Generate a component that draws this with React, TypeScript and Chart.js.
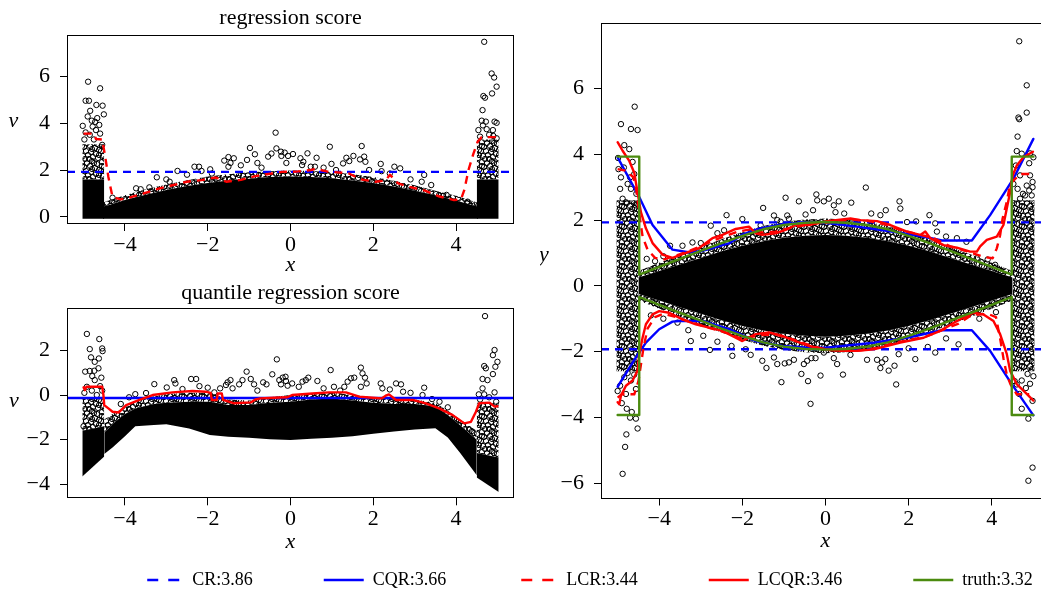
import React, { useEffect, useRef } from 'react';
import { Chart, registerables } from 'chart.js';

Chart.register(...registerables);

const BLUE = '#0000ff';
const RED = '#ff0000';
const GREEN = '#4b8b0f';
const SERIF = '"Liberation Serif", "Times New Roman", serif';

// ---------- ticks ----------
const xTicks = [-4, -2, 0, 2, 4];
const tlYTicks = [0, 2, 4, 6];
const blYTicks = [-4, -2, 0, 2];
const rYTicks = [-6, -4, -2, 0, 2, 4, 6];

// ---------- legend ----------
const legendLabels = ['CR:3.86', 'CQR:3.66', 'LCR:3.44', 'LCQR:3.46', 'truth:3.32'];
const legendColors = [BLUE, BLUE, RED, RED, GREEN];
const legendDashed = [true, false, true, false, false];

// ---------- top-left: regression score ----------
const tlFloor = -0.08;
const tlCoreX = [-4.53, -4.4, -4.0, -3.5, -3.0, -2.5, -2.0, -1.5, -1.0, -0.5, 0.0, 0.5, 1.0, 1.5, 2.0, 2.5, 3.0, 3.5, 4.0, 4.4, 4.53];
const tlCoreTop = [0.45, 0.5, 0.72, 0.95, 1.15, 1.32, 1.45, 1.55, 1.63, 1.7, 1.72, 1.7, 1.65, 1.55, 1.45, 1.3, 1.12, 0.92, 0.7, 0.5, 0.45];
const tlFringeTop = [0.6, 0.7, 0.92, 1.18, 1.38, 1.56, 1.72, 1.82, 1.9, 1.95, 1.98, 1.96, 1.92, 1.82, 1.7, 1.54, 1.35, 1.12, 0.9, 0.68, 0.6];
const tlColLX = [-5.03, -4.5];
const tlColRX = [4.5, 5.03];
const tlColSolid = [1.6, 1.6];
const tlColLTop = [3.1, 3.1];
const tlColRTop = [3.3, 3.3];
const tlCrX = [-5.4, 5.4];
const tlCrV = [1.92, 1.92];
const tlLcrX = [-5.0, -4.75, -4.7, -4.55, -4.48, -4.4, -4.3, -4.1, -3.9, -3.55, -3.2, -2.85, -2.5, -2.15, -1.8, -1.55, -1.2, -0.82, -0.45, -0.2, 0.15, 0.5, 0.6, 0.9, 1.4, 1.7, 2.05, 2.3, 2.4, 2.6, 2.9, 3.25, 3.6, 3.95, 4.12, 4.2, 4.3, 4.42, 4.52, 4.62, 4.97];
const tlLcrV = [3.55, 3.55, 3.32, 3.3, 2.6, 1.7, 0.85, 0.75, 0.82, 1.0, 1.2, 1.35, 1.5, 1.57, 1.68, 1.5, 1.58, 1.75, 1.85, 1.92, 1.93, 2.0, 2.05, 1.93, 1.86, 1.6, 1.5, 1.55, 1.8, 1.43, 1.27, 1.12, 0.87, 0.72, 0.75, 1.15, 2.0, 2.7, 3.2, 3.4, 3.4];
const tlPtsX = [
  -4.89, -4.6, -4.95, -4.87, -4.69, -4.54, -4.84, -4.51, -4.9, -4.67,
  -5.02, -4.78, -4.62, -4.72, -4.8, -4.95, -4.85, -4.7, -4.6, -4.98,
  -4.75, -4.55, -4.3, -3.73, -3.62, -3.41, -3.23, -2.92, -2.73, -2.5,
  -2.32, -2.21, -1.94, -2.15, -1.9, -1.6, -1.5, -1.37, -1.45, -1.5,
  -1.2, -1.05, -0.98, -0.86, -0.8, -0.7, -0.54, -0.46, -0.34, -0.36,
  -0.23, -0.14, -0.22, -0.1, -0.06, 0.06, 0.24, 0.31, 0.28, 0.41,
  0.49, 0.59, 0.63, 0.8, 0.95, 0.99, 1.1, 1.27, 1.35, 1.42,
  1.52, 1.68, 1.72, 1.78, 1.81, 1.9, 2.18, 2.2, 2.4, 2.51,
  2.65, 2.9, 3.17, 3.23, 3.4, 3.77, 4.28, -3.0, 4.68, 4.86,
  4.92, 4.98, 4.87, 4.66, 4.7, 4.64, 4.62, 4.72, 4.93, 4.98,
  4.54, 4.74, 4.89, 4.58, 4.98, 4.8, 4.65, 4.9,
];
const tlPtsV = [
  5.76, 5.48, 4.95, 4.95, 4.77, 4.74, 4.52, 4.37, 4.28, 4.21,
  3.88, 3.85, 3.92, 4.05, 4.1, 3.6, 3.5, 3.7, 3.55, 3.3,
  3.3, 3.07, 0.82, 1.22, 1.18, 1.26, 1.69, 1.5, 1.96, 1.8,
  2.14, 2.14, 2.03, 1.96, 1.85, 2.4, 2.55, 2.5, 2.3, 2.14,
  2.2, 2.43, 2.94, 2.67, 2.3, 2.1, 2.57, 2.7, 2.92, 3.59,
  2.78, 2.74, 2.6, 2.3, 2.6, 2.68, 2.5, 2.35, 2.21, 2.71,
  2.14, 2.14, 2.52, 2.1, 2.99, 2.26, 2.0, 2.28, 2.52, 2.38,
  2.6, 2.45, 3.02, 2.57, 2.35, 2.0, 2.26, 1.95, 1.85, 2.14,
  2.07, 1.6, 1.5, 1.79, 1.36, 0.94, 0.65, 1.6, 7.46, 6.11,
  5.94, 5.55, 5.26, 5.15, 5.08, 4.55, 4.1, 4.06, 4.06, 4.01,
  3.7, 3.74, 3.7, 3.42, 3.35, 3.5, 3.9, 3.45,
];

// ---------- bottom-left: quantile regression score ----------
const blBandX = [-4.5, -4.3, -4.0, -3.75, -3.3, -3.0, -2.45, -1.95, -1.5, -1.0, -0.5, 0.0, 0.5, 1.0, 1.5, 2.0, 2.5, 3.0, 3.5, 3.8, 4.1, 4.5];
const blCoreTop = [-1.7, -1.3, -0.85, -0.6, -0.4, -0.35, -0.3, -0.3, -0.45, -0.45, -0.35, -0.3, -0.2, -0.15, -0.25, -0.35, -0.4, -0.4, -0.5, -0.9, -1.35, -2.0];
const blCoreBot = [-2.64, -2.35, -1.85, -1.4, -1.34, -1.31, -1.5, -1.79, -1.87, -1.92, -1.98, -2.02, -1.96, -1.92, -1.85, -1.74, -1.64, -1.55, -1.49, -1.9, -2.6, -3.6];
const blFringeTop = [-1.1, -0.85, -0.55, -0.3, -0.05, 0.05, 0.1, 0.1, -0.2, -0.25, -0.1, 0.0, 0.05, 0.1, 0.0, -0.1, -0.15, -0.2, -0.35, -0.7, -1.1, -1.6];
const blColLX = [-5.03, -4.5];
const blColLBot = [-3.65, -2.75];
const blColLMid = [-1.6, -1.4];
const blColLTop = [-0.1, -0.1];
const blColRX = [4.5, 5.03];
const blColRBot = [-3.7, -4.35];
const blColRMid = [-2.6, -2.8];
const blColRTop = [-0.35, -0.35];
const blCqrX = [-5.4, 5.4];
const blCqrV = [-0.13, -0.13];
const blLcqrX = [-5.0, -4.97, -4.93, -4.55, -4.52, -4.5, -4.4, -4.3, -4.15, -3.97, -3.65, -3.33, -2.85, -2.37, -2.05, -1.93, -1.9, -1.78, -1.76, -1.66, -1.63, -1.36, -0.96, -0.85, -0.73, -0.4, -0.08, 0.04, 0.53, 0.93, 1.34, 1.66, 1.98, 2.2, 2.3, 2.38, 2.55, 2.95, 3.27, 3.59, 3.92, 4.2, 4.36, 4.48, 4.56, 4.81, 4.93, 5.0];
const blLcqrV = [0.35, 0.22, 0.37, 0.37, 0.0, -0.45, -0.6, -0.75, -0.78, -0.45, -0.22, 0.0, 0.12, 0.18, 0.15, 0.1, -0.22, -0.22, 0.07, 0.07, -0.22, -0.37, -0.33, -0.2, -0.15, -0.12, -0.1, 0.0, 0.07, 0.12, 0.12, -0.07, -0.12, -0.15, -0.03, 0.03, -0.22, -0.22, -0.37, -0.6, -0.9, -1.27, -1.2, -0.75, -0.37, -0.34, -0.52, -0.5];
const blPtsX = [
  -4.92, -4.62, -4.85, -4.55, -4.54, -4.82, -4.73, -4.63, -4.96, -4.85,
  -4.74, -4.64, -4.79, -4.73, -4.57, -4.92, -4.6, -4.8, -4.98, -4.68,
  -5.0, -4.55, -3.75, -3.49, -3.29, -2.99, -2.81, -2.78, -2.61, -2.4,
  -2.28, -2.0, -1.84, -1.56, -1.52, -1.45, -1.4, -1.24, -1.16, -1.06,
  -0.96, -0.88, -0.66, -0.58, -0.44, -0.33, -0.27, -0.19, -0.11, -0.23,
  -0.07, -0.12, 0.04, 0.2, 0.29, 0.37, 0.43, 0.65, 0.97, 1.05,
  1.3, 1.38, 1.46, 1.54, 1.7, 1.74, 1.8, 1.84, 1.7, 2.18,
  2.22, 2.55, 2.67, 2.72, 3.23, 3.19, 3.42, -3.9, -2.2, -1.7,
  -0.8, 0.8, 1.2, 2.4, 2.9, 3.6, 3.8, -4.1, 4.7, 4.93,
  4.89, 5.0, 4.68, 4.72, 4.95, 4.89, 4.64, 4.76, 4.64, 4.55,
  4.68, 4.93, 4.97, 4.8, 4.58,
];
const blPtsV = [
  2.74, 2.51, 2.06, 2.09, 1.97, 1.69, 1.49, 1.64, 1.05, 1.08,
  1.09, 1.2, 0.85, 0.67, 0.78, 0.37, 0.4, 0.2, 0.1, 0.0,
  -1.4, 0.2, 0.04, 0.09, 0.49, 0.34, 0.67, 0.52, 0.27, 0.72,
  0.72, 0.33, 0.12, 0.45, 0.57, 0.67, 0.3, 0.48, 0.67, 1.05,
  0.72, 0.48, 0.57, 0.48, 0.93, 1.6, 0.67, 0.78, 0.63, 0.48,
  0.42, 0.82, 0.52, 0.37, 0.6, 0.67, 0.78, 0.63, 1.12, 0.37,
  0.37, 0.6, 0.75, 0.78, 1.23, 0.97, 0.78, 0.52, 0.37, 0.52,
  0.3, 0.52, 0.48, 0.15, 0.33, 0.0, -0.18, -0.1, 0.4, 0.3,
  0.2, 0.3, 0.2, 0.25, 0.1, -0.3, -0.55, -0.4, 3.54, 2.02,
  1.79, 1.49, 1.3, 1.2, 1.27, 0.94, 0.72, 0.67, 0.3, 0.03,
  0.03, 0.12, -0.3, -0.1, -0.2,
];

// ---------- right: y vs x with intervals ----------
const rBandX = [-4.5, -4.0, -3.5, -3.0, -2.5, -2.0, -1.5, -1.0, -0.5, 0.0, 0.5, 1.0, 1.5, 2.0, 2.5, 3.0, 3.5, 4.0, 4.5];
const rCoreTop = [0.25, 0.45, 0.65, 0.85, 1.05, 1.22, 1.36, 1.46, 1.52, 1.55, 1.52, 1.46, 1.36, 1.22, 1.05, 0.85, 0.65, 0.45, 0.25];
const rCoreBot = [-0.25, -0.45, -0.65, -0.85, -1.05, -1.22, -1.36, -1.46, -1.52, -1.55, -1.52, -1.46, -1.36, -1.22, -1.05, -0.85, -0.65, -0.45, -0.25];
const rFringeTop = [0.45, 0.7, 0.95, 1.18, 1.42, 1.64, 1.82, 1.95, 2.02, 2.05, 2.02, 1.95, 1.82, 1.64, 1.42, 1.18, 0.95, 0.7, 0.45];
const rFringeBot = [-0.45, -0.7, -0.95, -1.18, -1.42, -1.64, -1.82, -1.95, -2.02, -2.05, -2.02, -1.95, -1.82, -1.64, -1.42, -1.18, -0.95, -0.7, -0.45];
const rColLX = [-5.03, -4.5];
const rColRX = [4.5, 5.03];
const rColBot = [-2.6, -2.6];
const rColTop = [2.6, 2.6];
const rCrX = [-5.4, 5.4];
const rCrUp = [1.93, 1.93];
const rCrLo = [-1.93, -1.93];
const rCqrUpX = [-5.0, -4.48, -4.16, -3.84, -3.68, -3.3, -3.0, -2.6, -2.3, -2.0, -1.6, -1.0, -0.45, 0.1, 0.75, 1.55, 2.35, 2.8, 3.52, 3.96, 4.52, 5.0];
const rCqrUpY = [3.91, 2.7, 1.85, 1.35, 1.1, 1.02, 1.05, 1.19, 1.3, 1.56, 1.74, 1.88, 1.93, 1.9, 1.8, 1.66, 1.5, 1.38, 1.38, 2.15, 3.26, 4.47];
const rCqrLoX = [-5.0, -4.56, -4.32, -4.0, -3.68, -3.52, -2.96, -2.32, -1.68, -1.04, -0.4, 0.0, 1.16, 1.96, 2.8, 3.52, 3.96, 4.48, 5.0];
const rCqrLoY = [-3.07, -2.18, -1.73, -1.32, -1.09, -1.07, -1.07, -1.32, -1.68, -1.83, -1.88, -1.88, -1.73, -1.58, -1.35, -1.35, -1.98, -2.99, -3.94];
const rLcqrUpX = [-5.0, -4.88, -4.72, -4.6, -4.52, -4.44, -4.32, -4.16, -3.92, -3.68, -3.36, -3.04, -2.72, -2.48, -2.16, -1.84, -1.68, -1.52, -1.2, -0.96, -0.72, -0.4, 0.04, 0.6, 0.84, 1.24, 1.56, 1.96, 2.28, 2.4, 2.52, 2.84, 3.16, 3.48, 3.64, 3.72, 3.88, 4.12, 4.28, 4.44, 4.5, 4.6, 4.76, 4.99];
const rLcqrUpY = [4.37, 4.11, 3.8, 3.44, 2.84, 2.24, 1.75, 1.3, 0.95, 0.85, 1.0, 1.15, 1.45, 1.55, 1.73, 1.8, 1.6, 1.55, 1.6, 1.7, 1.85, 1.85, 1.97, 2.05, 2.0, 1.97, 1.85, 1.65, 1.55, 1.65, 1.45, 1.24, 1.16, 1.04, 1.04, 1.2, 1.4, 1.5, 1.85, 2.85, 3.35, 3.66, 3.91, 4.08];
const rLcqrLoX = [-5.0, -4.96, -4.92, -4.8, -4.64, -4.52, -4.48, -4.4, -4.32, -4.16, -4.0, -3.76, -3.44, -3.12, -2.8, -2.48, -2.16, -2.0, -1.68, -1.36, -1.04, -0.72, -0.4, 0.0, 0.36, 0.76, 1.16, 1.8, 2.36, 2.76, 3.16, 3.56, 3.8, 4.04, 4.2, 4.36, 4.44, 4.6, 4.84, 5.0];
const rLcqrLoY = [-3.54, -3.6, -3.34, -3.04, -2.88, -2.58, -2.08, -1.58, -1.17, -0.87, -0.77, -0.82, -1.02, -1.17, -1.27, -1.37, -1.58, -1.68, -1.47, -1.42, -1.52, -1.68, -1.83, -1.93, -1.98, -1.98, -1.93, -1.73, -1.58, -1.37, -1.07, -0.82, -0.87, -1.07, -1.47, -2.07, -2.58, -2.99, -3.29, -3.49];
const rLcrUpX = [-5.0, -4.8, -4.62, -4.55, -4.48, -4.4, -4.28, -4.1, -3.9, -3.6, -3.3, -3.0, -2.7, -2.4, -2.1, -1.8, -1.5, -1.2, -0.9, -0.6, -0.3, 0.0, 0.3, 0.6, 1.0, 1.4, 1.8, 2.2, 2.6, 3.0, 3.4, 3.8, 4.02, 4.12, 4.2, 4.26, 4.36, 4.44, 4.68, 4.9];
const rLcrUpY = [3.55, 3.5, 3.3, 2.9, 2.2, 1.5, 1.1, 0.85, 0.8, 0.92, 1.05, 1.2, 1.38, 1.52, 1.65, 1.72, 1.62, 1.65, 1.75, 1.82, 1.9, 1.92, 1.97, 2.02, 1.98, 1.88, 1.7, 1.58, 1.45, 1.2, 1.05, 0.88, 0.84, 1.14, 1.54, 2.05, 2.55, 3.1, 3.4, 3.4];
const rLcrLoX = [-5.0, -4.9, -4.6, -4.5, -4.44, -4.38, -4.28, -4.1, -3.9, -3.6, -3.2, -2.8, -2.4, -2.0, -1.6, -1.2, -0.8, -0.4, 0.0, 0.4, 0.8, 1.2, 1.6, 2.0, 2.4, 2.8, 3.2, 3.5, 3.9, 4.1, 4.2, 4.28, 4.36, 4.45, 4.6, 4.9];
const rLcrLoY = [-3.4, -3.3, -3.3, -2.9, -2.4, -1.9, -1.3, -0.95, -0.85, -0.95, -1.12, -1.28, -1.42, -1.62, -1.5, -1.48, -1.62, -1.8, -1.95, -1.97, -1.97, -1.9, -1.75, -1.65, -1.55, -1.35, -1.15, -0.9, -0.85, -0.95, -1.6, -2.2, -2.7, -3.0, -3.3, -3.3];
const rTruthX = [-5.0, -4.48, -4.48, -4.0, -3.5, -3.0, -2.5, -2.0, -1.5, -1.0, -0.5, 0.0, 0.5, 1.0, 1.5, 2.0, 2.5, 3.0, 3.5, 4.0, 4.48, 4.48, 5.0];
const rTruthUp = [3.93, 3.93, 0.34, 0.58, 0.82, 1.06, 1.3, 1.52, 1.72, 1.85, 1.92, 1.94, 1.92, 1.85, 1.72, 1.52, 1.3, 1.06, 0.82, 0.58, 0.34, 3.93, 3.93];
const rTruthLo = [-3.93, -3.93, -0.34, -0.58, -0.82, -1.06, -1.3, -1.52, -1.72, -1.85, -1.92, -1.94, -1.92, -1.85, -1.72, -1.52, -1.3, -1.06, -0.82, -0.58, -0.34, -3.93, -3.93];
const rPtsX = [
  -4.92, -4.59, -4.68, -4.52, -4.84, -4.72, -4.99, -4.64, -4.92, -4.76,
  -4.94, -4.68, -4.88, -4.8, -4.56, -4.85, -4.6, -4.98, -4.7, -4.55,
  -4.84, -4.68, -4.56, -4.94, -4.8, -4.9, -4.78, -4.66, -4.7, -4.56,
  -4.79, -4.52, -4.82, -4.88, -4.76, -4.6, -5.0,
  4.66, 4.84, 4.84, 4.64, 4.66, 4.62, 4.6, 4.72, 4.9, 5.0,
  4.58, 4.68, 4.92, 4.98, 4.52, 4.62, 4.84, 4.96, 4.68, 4.8,
  4.92, 4.98, 4.9, 4.75,
  4.86, 4.72, 4.92, 4.82, 4.66, 4.72, 4.88, 4.98, 4.88, 4.98,
  4.55, 5.0, 4.6,
  -4.3, -3.74, -3.44, -3.2, -2.76, -2.38, -2.0, -1.5, -0.96, -0.64,
  -0.48, -0.22, -0.2, -0.04, 0.08, 0.2, 0.24, 0.32, 0.62, 0.97,
  1.78, 1.8, 1.32, 1.96, 2.18, 2.5, 2.64, 2.68, 3.16, 3.39,
  3.64, 4.08, -2.44, -1.24, -1.16, -0.92, -0.88, -1.56, -3.9, -4.1,
  3.9, 1.1, 1.45, -0.3, 0.45, 2.9, -3.0, -2.6, -1.08,
  -3.56, -3.24, -2.94, -2.78, -2.24, -2.26, -1.92, -1.52, -1.42, -1.24,
  -1.16, -1.06, -0.98, -0.88, -0.76, -0.58, -0.52, -0.44, -0.42, -0.36,
  -0.34, -0.12, -0.24, -0.04, 0.2, 0.28, 0.42, 1.0, 1.24, 1.36,
  1.44, 1.32, 1.52, 1.66, 1.7, 1.76, 2.16, 2.46, 2.64, 3.2,
  -3.9, -4.2, 3.7, 4.1, -1.8, -2.6, 0.6, 2.0, 2.9, -3.3,
];
const rPtsY = [
  4.92, 5.45, 4.77, 4.74, 4.28, 4.16, 3.89, 3.77, 3.3, 3.1,
  2.95, 2.95, 2.65, 2.54, 2.45, 3.6, 3.4, 3.55, 3.3, 2.8,
  -2.78, -2.88, -3.14, -3.04, -3.29, -3.57, -3.74, -3.84, -4.01, -4.04,
  -4.52, -4.34, -4.9, -5.72, -2.65, -2.7, -3.2,
  7.44, 6.1, 5.27, 5.12, 5.07, 4.54, 4.1, 4.02, 3.73, 3.91,
  3.66, 3.36, 3.36, 3.16, 3.1, 2.95, 3.05, 2.75, 2.65, 2.75,
  4.03, 3.0, 2.9, 2.8,
  -2.68, -2.88, -2.98, -3.11, -3.29, -3.74, -4.04, -5.53, -5.93, -3.5,
  -2.9, -2.75, -3.0,
  0.82, 1.22, 1.22, 1.32, 1.83, 2.15, 2.03, 2.37, 2.68, 2.57,
  2.17, 2.78, 2.6, 2.57, 2.65, 2.45, 2.24, 2.57, 2.53, 2.99,
  2.57, 2.35, 2.15, 1.94, 1.96, 2.15, 1.9, 1.65, 1.45, 1.34,
  0.84, 0.64, 1.69, 2.14, 2.0, 2.14, 2.04, 1.84, 0.9, 0.75,
  0.8, 2.2, 2.3, 2.3, 2.2, 1.5, 1.3, 1.6, 1.95,
  -1.12, -1.68, -1.52, -1.95, -2.13, -1.83, -1.93, -2.28, -2.5, -2.18,
  -2.38, -2.93, -2.36, -2.33, -2.25, -2.68, -2.38, -2.28, -2.9, -3.59,
  -2.2, -2.73, -2.2, -2.03, -2.2, -2.38, -2.7, -2.25, -2.25, -2.33,
  -2.23, -2.5, -2.58, -2.43, -3.0, -2.08, -2.23, -1.86, -2.03, -1.78,
  -1.0, -0.9, -1.0, -0.8, -2.1, -1.7, -2.1, -1.9, -1.6, -1.35,
];

// ---------- helpers ----------
const fmt = (v: number) => (v < 0 ? '\u2212' + Math.abs(v) : String(v));
const zip = (xs: number[], ys: number[]) => xs.map((x, i) => ({ x, y: ys[i] }));

// ring-texture tile used to render the densely over-plotted regions
const TEXTURE_TILE = 20;
const TEXTURE_RINGS = [
  [2, 2], [7, 3], [12, 1], [17, 4], [4, 7], [10, 6], [15, 8], [19, 10], [1, 11], [6, 11], [11, 12],
  [16, 14], [3, 16], [8, 15], [13, 17], [18, 18], [9, 19], [14, 3], [5, 19], [19, 15], [12, 9], [2, 6],
];

function ringPattern(size: number, centers: number[][], radius: number): any {
  const c = document.createElement('canvas');
  c.width = size;
  c.height = size;
  const g = c.getContext('2d');
  if (!g) return '#000';
  g.strokeStyle = '#000';
  g.lineWidth = 1;
  for (const [cx, cy] of centers) {
    for (const dx of [-size, 0, size]) {
      for (const dy of [-size, 0, size]) {
        g.beginPath();
        g.arc(cx + dx, cy + dy, radius, 0, Math.PI * 2);
        g.stroke();
      }
    }
  }
  return g.createPattern(c, 'repeat') || '#000';
}

function lineDs(xs: number[], ys: number[], color: string, dashed: boolean) {
  return {
    data: zip(xs, ys),
    borderColor: color,
    backgroundColor: color,
    borderWidth: 2.4,
    borderDash: dashed ? [8, 6] : [],
    borderCapStyle: dashed ? 'butt' : 'round',
    borderJoinStyle: 'round',
    pointRadius: 0,
    pointHoverRadius: 0,
    fill: false,
    tension: 0,
  };
}

function pointsDs(xs: number[], ys: number[]) {
  return {
    data: zip(xs, ys),
    showLine: false,
    pointRadius: 2.7,
    pointHoverRadius: 2.7,
    pointBorderWidth: 1,
    pointBorderColor: '#000',
    pointBackgroundColor: 'rgba(0,0,0,0)',
    fill: false,
  };
}

const noLine = { borderWidth: 0, borderColor: 'rgba(0,0,0,0)', pointRadius: 0, pointHoverRadius: 0, tension: 0 };

function bandDs(xs: number[], lo: number[], hi: number[], bg: any) {
  return [
    { ...noLine, data: zip(xs, lo), fill: false },
    { ...noLine, data: zip(xs, hi), fill: '-1', backgroundColor: bg },
  ];
}

function floorDs(xs: number[], hi: number[], floor: number, bg: any) {
  return { ...noLine, data: zip(xs, hi), fill: { value: floor }, backgroundColor: bg };
}

const framePlugin = {
  id: 'frame',
  afterDatasetsDraw(chart: any, _args: any, opts: any) {
    const { ctx, chartArea: a } = chart;
    ctx.save();
    ctx.setLineDash([]);
    ctx.strokeStyle = '#000';
    ctx.lineWidth = 1;
    const l = Math.round(a.left) + 0.5;
    const t = Math.round(a.top) + 0.5;
    const r = Math.round(a.right) - 0.5;
    const b = Math.round(a.bottom) - 0.5;
    ctx.strokeRect(l, t, r - l, b - t);
    if (opts && opts.label) {
      ctx.fillStyle = '#000';
      ctx.font = `italic 22px ${SERIF}`;
      ctx.textAlign = 'center';
      ctx.textBaseline = 'middle';
      ctx.fillText(opts.label, opts.lx, opts.ly);
    }
    ctx.restore();
  },
};

function axis(min: number, max: number, ticks: number[], isX: boolean, size: number, title: string, titlePadB: number) {
  return {
    type: 'linear',
    position: isX ? 'bottom' : 'left',
    min,
    max,
    afterBuildTicks: (s: any) => {
      s.ticks = ticks.map((v) => ({ value: v }));
    },
    afterFit: (s: any) => {
      if (isX) s.height = size;
      else s.width = size;
    },
    grid: { display: true, drawOnChartArea: false, drawTicks: true, tickLength: 7, color: '#000', lineWidth: 1 },
    border: { display: false },
    ticks: {
      color: '#000',
      font: { family: SERIF, size: 22 },
      padding: isX ? 1 : 10,
      maxRotation: 0,
      autoSkip: false,
      callback: (v: any) => fmt(Number(v)),
    },
    title: title
      ? { display: true, text: title, color: '#000', font: { family: SERIF, size: 22, style: 'italic' }, padding: { top: 0, bottom: titlePadB } }
      : { display: false },
  };
}

function panelOptions(p: any) {
  return {
    responsive: false,
    animation: false,
    events: [],
    layout: { padding: p.pad },
    plugins: {
      legend: { display: false },
      tooltip: { enabled: false },
      title: p.title
        ? { display: true, text: p.title, fullSize: false, color: '#000', font: { family: SERIF, size: 22, weight: 'normal' }, padding: p.titlePad }
        : { display: false },
      frame: { label: p.label, lx: p.lx, ly: p.ly },
    },
    scales: {
      x: axis(p.xr[0], p.xr[1], xTicks, true, p.xH, 'x', p.xTitlePad),
      y: axis(p.yr[0], p.yr[1], p.yTicks, false, p.yW, '', 0),
    },
  };
}

export default function App() {
  const tlRef = useRef<HTMLCanvasElement>(null);
  const blRef = useRef<HTMLCanvasElement>(null);
  const rtRef = useRef<HTMLCanvasElement>(null);
  const lgRef = useRef<HTMLCanvasElement>(null);

  useEffect(() => {
    const dense = ringPattern(TEXTURE_TILE, TEXTURE_RINGS, 2.6);
    const charts: any[] = [];

    if (tlRef.current) {
      charts.push(
        new Chart(tlRef.current, {
          type: 'line',
          data: {
            datasets: [
              lineDs(tlLcrX, tlLcrV, RED, true),
              lineDs(tlCrX, tlCrV, BLUE, true),
              pointsDs(tlPtsX, tlPtsV),
              floorDs(tlCoreX, tlCoreTop, tlFloor, '#000'),
              ...bandDs(tlCoreX, tlCoreTop, tlFringeTop, dense),
              floorDs(tlColLX, tlColSolid, tlFloor, '#000'),
              floorDs(tlColRX, tlColSolid, tlFloor, '#000'),
              ...bandDs(tlColLX, tlColSolid, tlColLTop, dense),
              ...bandDs(tlColRX, tlColSolid, tlColRTop, dense),
            ] as any,
          },
          options: panelOptions({
            xr: [-5.4, 5.4], yr: [-0.3, 7.75], yTicks: tlYTicks, yW: 67, xH: 56, xTitlePad: 1.1,
            pad: { left: 0, right: 16, top: 0, bottom: 0 },
            title: 'regression score', titlePad: { top: 5.5, bottom: 3.1 },
            label: 'v', lx: 13.5, ly: 121.7,
          }) as any,
          plugins: [framePlugin],
        })
      );
    }

    if (blRef.current) {
      charts.push(
        new Chart(blRef.current, {
          type: 'line',
          data: {
            datasets: [
              lineDs(blLcqrX, blLcqrV, RED, false),
              lineDs(blCqrX, blCqrV, BLUE, false),
              pointsDs(blPtsX, blPtsV),
              ...bandDs(blBandX, blCoreBot, blCoreTop, '#000'),
              ...bandDs(blBandX, blCoreTop, blFringeTop, dense),
              ...bandDs(blColLX, blColLBot, blColLMid, '#000'),
              ...bandDs(blColLX, blColLMid, blColLTop, dense),
              ...bandDs(blColRX, blColRBot, blColRMid, '#000'),
              ...bandDs(blColRX, blColRMid, blColRTop, dense),
            ] as any,
          },
          options: panelOptions({
            xr: [-5.4, 5.4], yr: [-4.63, 3.89], yTicks: blYTicks, yW: 67, xH: 71.7, xTitlePad: 14.1,
            pad: { left: 0, right: 16, top: 0, bottom: 0 },
            title: 'quantile regression score', titlePad: { top: 10.5, bottom: 1.4 },
            label: 'v', lx: 14, ly: 131.7,
          }) as any,
          plugins: [framePlugin],
        })
      );
    }

    if (rtRef.current) {
      charts.push(
        new Chart(rtRef.current, {
          type: 'line',
          data: {
            datasets: [
              lineDs(rTruthX, rTruthUp, GREEN, false),
              lineDs(rTruthX, rTruthLo, GREEN, false),
              lineDs(rLcqrUpX, rLcqrUpY, RED, false),
              lineDs(rLcqrLoX, rLcqrLoY, RED, false),
              lineDs(rLcrUpX, rLcrUpY, RED, true),
              lineDs(rLcrLoX, rLcrLoY, RED, true),
              lineDs(rCqrUpX, rCqrUpY, BLUE, false),
              lineDs(rCqrLoX, rCqrLoY, BLUE, false),
              lineDs(rCrX, rCrUp, BLUE, true),
              lineDs(rCrX, rCrLo, BLUE, true),
              pointsDs(rPtsX, rPtsY),
              ...bandDs(rBandX, rCoreBot, rCoreTop, '#000'),
              ...bandDs(rBandX, rCoreTop, rFringeTop, dense),
              ...bandDs(rBandX, rFringeBot, rCoreBot, dense),
              ...bandDs(rColLX, rColBot, rColTop, dense),
              ...bandDs(rColRX, rColBot, rColTop, dense),
            ] as any,
          },
          options: panelOptions({
            xr: [-5.4, 5.4], yr: [-6.47, 7.99], yTicks: rYTicks, yW: 61, xH: 81.5, xTitlePad: 25.8,
            pad: { left: 0, right: 10, top: 20, bottom: 0 },
            title: '', label: 'y', lx: 4, ly: 255.7,
          }) as any,
          plugins: [framePlugin],
        })
      );
    }

    if (lgRef.current) {
      charts.push(
        new Chart(lgRef.current, {
          type: 'line',
          data: {
            datasets: legendLabels.map((lab, i) => ({
              label: lab,
              data: [],
              borderColor: legendColors[i],
              backgroundColor: legendColors[i],
              borderWidth: 2.4,
              borderDash: legendDashed[i] ? [11, 10] : [],
            })),
          },
          options: {
            responsive: false,
            animation: false,
            events: [],
            layout: { padding: 0 },
            scales: { x: { display: false }, y: { display: false } },
            plugins: {
              tooltip: { enabled: false },
              legend: {
                display: true,
                position: 'top',
                align: 'center',
                labels: {
                  usePointStyle: true,
                  pointStyle: 'line',
                  pointStyleWidth: 40,
                  padding: 71,
                  color: '#000',
                  font: { family: SERIF, size: 18 },
                  generateLabels: (chart: any) => {
                    const items = Chart.defaults.plugins.legend.labels.generateLabels(chart);
                    items.forEach((it: any, i: number) => {
                      it.pointStyle = 'line';
                      it.strokeStyle = legendColors[i];
                      it.fillStyle = legendColors[i];
                      it.lineWidth = 2.4;
                      it.lineDash = legendDashed[i] ? [11, 10] : [];
                      it.lineDashOffset = legendDashed[i] ? 17 : 0;
                      it.lineCap = 'butt';
                    });
                    return items;
                  },
                },
              },
            },
          } as any,
        })
      );
    }

    return () => {
      charts.forEach((c) => c.destroy());
    };
  }, []);

  return (
    <div style={{ position: 'fixed', left: 0, top: 0, width: 1041, height: 594, overflow: 'hidden', background: '#fff' }}>
      <canvas ref={tlRef} width={530} height={280} style={{ position: 'absolute', left: 0, top: 0 }} />
      <canvas ref={blRef} width={530} height={300} style={{ position: 'absolute', left: 0, top: 270 }} />
      <canvas ref={rtRef} width={520} height={580} style={{ position: 'absolute', left: 540, top: 0 }} />
      <canvas ref={lgRef} width={1200} height={260} style={{ position: 'absolute', left: -12, top: 500 }} />
    </div>
  );
}
